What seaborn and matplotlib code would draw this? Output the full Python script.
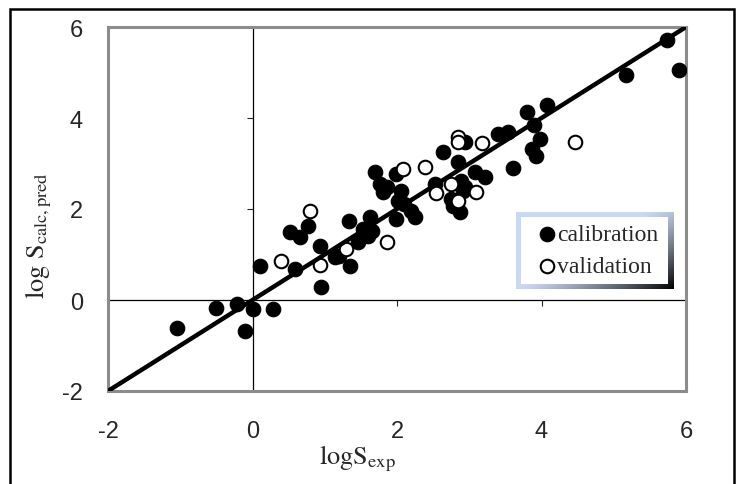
import matplotlib
matplotlib.use("Agg")
import matplotlib.pyplot as plt
import seaborn as sns
import pandas as pd
import numpy as np
from matplotlib.patches import Rectangle

cal_x = [-1.05, -0.51, -0.21, -0.11, 0.005, 0.29, 0.11, 0.52, 0.66, 0.59, 0.77, 0.94, 0.95,
         1.14, 1.20, 1.35, 1.33, 1.46, 1.53, 1.63, 1.66, 1.60, 1.69, 1.76, 1.81, 1.86, 1.99,
         2.05, 2.02, 1.99, 2.09, 2.19, 2.25, 2.52, 2.63, 2.75, 2.78, 2.85, 2.88, 2.87, 2.91,
         2.94, 2.94, 3.08, 3.22, 3.40, 3.54, 3.60, 3.80, 3.90, 3.87, 3.92, 3.98, 4.07, 5.17,
         5.74, 5.90]
cal_y = [-0.61, -0.17, -0.09, -0.68, -0.19, -0.19, 0.75, 1.49, 1.38, 0.69, 1.63, 1.19, 0.28,
         0.94, 0.97, 0.75, 1.74, 1.27, 1.56, 1.82, 1.52, 1.41, 2.82, 2.55, 2.38, 2.48, 2.77,
         2.40, 2.18, 1.78, 2.11, 1.96, 1.82, 2.55, 3.26, 2.22, 2.07, 3.03, 2.62, 1.93, 2.40,
         3.47, 2.48, 2.81, 2.71, 3.65, 3.69, 2.90, 4.13, 3.85, 3.32, 3.17, 3.54, 4.29, 4.95,
         5.71, 5.05]
val_x = [0.40, 0.79, 0.94, 1.30, 1.86, 2.08, 2.39, 2.54, 2.75, 2.85, 2.85, 2.85, 3.09, 3.17, 4.46]
val_y = [0.85, 1.95, 0.77, 1.13, 1.27, 2.87, 2.92, 2.35, 2.55, 3.58, 3.48, 2.18, 2.37, 3.45, 3.48]
fit_x = [-2, 6]
fit_y = [-2, 6]
ticks = [-2, 0, 2, 4, 6]

sns.set_style("white")
plt.rcParams['font.family'] = ['Liberation Sans', 'DejaVu Sans']
plt.rcParams['mathtext.fontset'] = 'stix'

W, H = 744, 485
fig = plt.figure(figsize=(W / 100, H / 100), dpi=100)
ax = fig.add_axes([108 / W, 1 - 392 / H, 578 / W, 364 / H])

cal = pd.DataFrame({"x": cal_x, "y": cal_y})
val = pd.DataFrame({"x": val_x, "y": val_y})
line = pd.DataFrame({"x": fit_x, "y": fit_y})

sns.scatterplot(data=cal, x="x", y="y", ax=ax, s=110, color="black", edgecolor="black",
                linewidth=0.8, label="calibration", zorder=3)
sns.scatterplot(data=val, x="x", y="y", ax=ax, s=95, facecolor="white", edgecolor="black",
                linewidth=1.5, label="validation", zorder=4)
sns.lineplot(data=line, x="x", y="y", ax=ax, color="black", linewidth=3.2, zorder=5,
             legend=False)

ax.set_xlim(-2, 6)
ax.set_ylim(-2, 6)
ax.set_xticks(ticks)
ax.set_yticks(ticks)
ax.set_xticklabels([str(t) for t in ticks])
ax.set_yticklabels([str(t) for t in ticks])
ax.tick_params(axis='y', length=0, labelsize=17, pad=18)
ax.tick_params(axis='x', length=0, labelsize=17, pad=21)
for sp in ax.spines.values():
    sp.set_color("#8c8c8c")
    sp.set_linewidth(2.2)

# axes crossing at zero
sy = ax.secondary_yaxis(0.25)
sy.set_yticks(ticks)
sy.tick_params(length=4, width=0.8, labelleft=False, labelright=False, direction='out')
sy.spines['left'].set_linewidth(0.9)
sy.spines['left'].set_color('black')
sx = ax.secondary_xaxis(0.25)
sx.set_xticks(ticks)
sx.tick_params(length=4, width=0.8, labelbottom=False, labeltop=False, direction='out')
sx.spines['bottom'].set_linewidth(0.9)
sx.spines['bottom'].set_color('black')

ax.set_xlabel(r"$\mathrm{logS}_{\mathrm{exp}}$", fontsize=19)
ax.set_ylabel(r"$\mathrm{log\ S}_{\mathrm{calc,pred}}$", fontsize=19)
ax.xaxis.label.set_va('center')
ax.yaxis.label.set_va('center')
ax.xaxis.set_label_coords(0.431, -0.183)
ax.yaxis.set_label_coords(-0.119, 0.43)

handles, labels = ax.get_legend_handles_labels()
ax.get_legend().remove() if ax.get_legend() else None

# gradient legend frame
bx0, by0, bw, bh = 516 / W, 1 - 290 / H, 157 / W, 77 / H
gax = fig.add_axes([bx0, by0, bw, bh], zorder=2)
gax.set_axis_off()
u = np.linspace(0, 1, 160)[None, :]
v = np.linspace(0, 1, 80)[:, None]
t = (0.55 * u + 0.45 * v)
f = np.clip((t - 0.45) / 0.55, 0, 1) ** 1.3
light = np.array([0.80, 0.85, 0.94])
dark = np.array([0.0, 0.0, 0.0])
img = light[None, None, :] * (1 - f[..., None]) + dark[None, None, :] * f[..., None]
gax.imshow(img, aspect='auto', extent=[0, 1, 0, 1], origin='upper')
gax.add_patch(Rectangle((5 / 157, 5 / 77), 1 - 10 / 157, 1 - 10 / 77,
                        transform=gax.transAxes, facecolor='white', edgecolor='none'))
gax.set_xlim(0, 1)
gax.set_ylim(0, 1)

leg = fig.legend(handles, labels, loc="center",
                 bbox_to_anchor=((516 + 673) / 2 / W + 0.002, 1 - (213 + 290) / 2 / H),
                 frameon=False, handletextpad=-0.1, handlelength=1.1, borderpad=0.2,
                 labelspacing=0.45, prop={"family": "Liberation Serif", "size": 17})
leg.set_zorder(5)

fig.patches.append(Rectangle((0.014, -0.02), 0.973, 0.999, transform=fig.transFigure,
                             fill=False, edgecolor="black", linewidth=1.8))

fig.savefig("out.png", dpi=100)
